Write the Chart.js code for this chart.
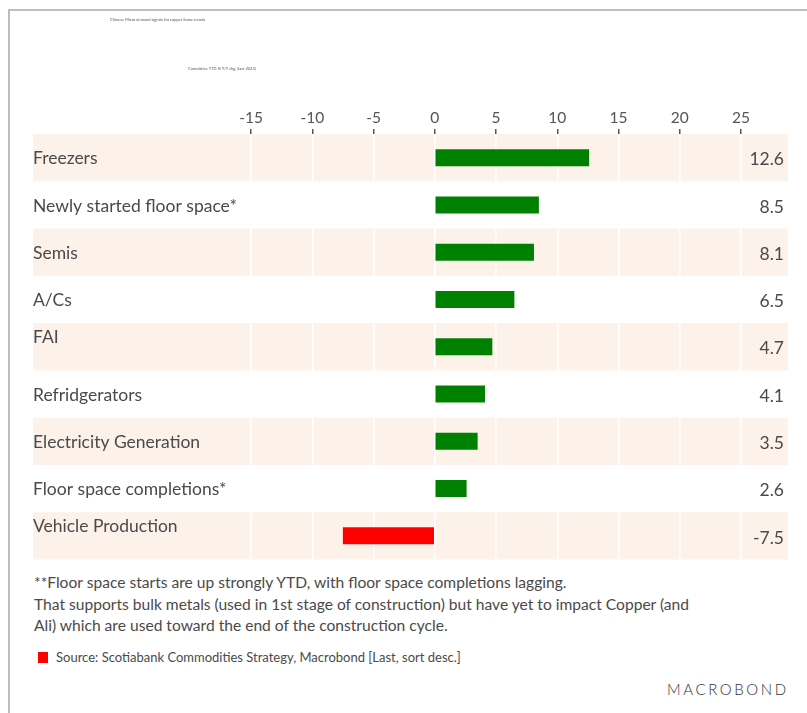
<!DOCTYPE html>
<html>
<head>
<meta charset="utf-8">
<script src="https://cdn.jsdelivr.net/npm/chart.js@4.4.1/dist/chart.umd.min.js"></script>
<style>
  html, body { margin: 0; padding: 0; background: #fff; }
  #wrap { position: relative; width: 807px; height: 713px; overflow: hidden; font-family: Lato, "Open Sans", sans-serif; color: #444; }
  #frame { position: absolute; left: 8px; top: 9px; right: -4px; bottom: -4px; border-top: 2px solid #bdbdbd; border-left: 2px solid #bdbdbd; }
  #cv { position: absolute; left: 0; top: 0; }
  .tiny { position: absolute; font-size: 4px; color: #555; white-space: nowrap; }
  #note { position: absolute; left: 34px; top: 572px; font-size: 15.6px; line-height: 21.5px; color: #4a4a4a; white-space: nowrap; }
  #legend { position: absolute; left: 38px; top: 649px; font-size: 13px; color: #4a4a4a; white-space: nowrap; }
  #legend .sw { display: inline-block; width: 10px; height: 11px; background: #ff0000; vertical-align: -1px; margin-right: 8px; }
  #logo { position: absolute; left: 667px; top: 680px; font-size: 15px; font-weight: 300; letter-spacing: 2.6px; color: #333; white-space: nowrap; }
</style>
</head>
<body>
<div id="wrap">
  <div id="frame"></div>
  <canvas id="cv" width="807" height="570"></canvas>
  <div class="tiny" style="left:110px; top:17px;">Chinese Micro demand signals for copper Some trends</div>
  <div class="tiny" style="left:188px; top:66px;">Cumulative YTD % Y/Y chg, (last 2023)</div>
  <div id="note">**Floor space starts are up strongly YTD, with floor space completions lagging.<br>That supports bulk metals (used in 1st stage of construction) but have yet to impact Copper (and<br>Ali) which are used toward the end of the construction cycle.</div>
  <div id="legend"><span class="sw"></span>Source: Scotiabank Commodities Strategy, Macrobond [Last, sort desc.]</div>
  <div id="logo">MACROBOND</div>
</div>
<script>
// ---- data ----
const categories = [
  "Freezers",
  "Newly started floor space*",
  "Semis",
  "A/Cs",
  ["FAI", ""],
  "Refridgerators",
  "Electricity Generation",
  "Floor space completions*",
  ["Vehicle Production", ""]
];
const values = [12.6, 8.5, 8.1, 6.5, 4.7, 4.1, 3.5, 2.6, -7.5];
const valueLabels = ["12.6", "8.5", "8.1", "6.5", "4.7", "4.1", "3.5", "2.6", "-7.5"];
const xTicks = [-15, -10, -5, 0, 5, 10, 15, 20, 25];

const BAND = '#fcf2ea';
const TEXT = '#4a4a4a';
const FONT = 'Lato, "Open Sans", sans-serif';

const bandPlugin = {
  id: 'bands',
  beforeDraw(chart) {
    const { ctx } = chart;
    const ys = chart.scales.y;
    const n = categories.length;
    const pitch = (ys.bottom - ys.top) / n;
    ctx.save();
    ctx.fillStyle = BAND;
    for (let i = 0; i < n; i += 2) {
      const c = ys.getPixelForValue(i);
      ctx.fillRect(33, c - pitch / 2, 788 - 33, pitch);
    }
    ctx.restore();
  },
  afterDatasetsDraw(chart) {
    const { ctx } = chart;
    const ys = chart.scales.y;
    ctx.save();
    ctx.font = '17.5px ' + FONT;
    ctx.fillStyle = TEXT;
    ctx.textAlign = 'right';
    ctx.textBaseline = 'middle';
    valueLabels.forEach((t, i) => {
      ctx.fillText(t, 784, ys.getPixelForValue(i) + 2);
    });
    ctx.restore();
  }
};

new Chart(document.getElementById('cv'), {
  type: 'bar',
  data: {
    labels: categories,
    datasets: [{
      data: values,
      backgroundColor: values.map(v => v < 0 ? '#ff0000' : '#008000'),
      borderWidth: 0,
      barPercentage: 0.36,
      categoryPercentage: 1
    }]
  },
  options: {
    indexAxis: 'y',
    responsive: false,
    animation: false,
    layout: { padding: { left: 33, right: 66, top: 100, bottom: 9 } },
    plugins: { legend: { display: false }, tooltip: { enabled: false } },
    scales: {
      x: {
        position: 'top',
        min: -15, max: 25,
        afterBuildTicks(s) { s.ticks = xTicks.map(v => ({ value: v })); },
        afterFit(s) { s.height = 34; },
        grid: { color: '#ffffff', lineWidth: 1.5, tickColor: '#555', tickLength: 5, drawOnChartArea: true },
        border: { display: false },
        ticks: { font: { family: FONT, size: 15.5 }, color: '#555', padding: 2, maxRotation: 0 }
      },
      y: {
        afterFit(s) { s.width = 218; },
        grid: { display: false },
        border: { display: false },
        ticks: { crossAlign: 'far', font: { family: FONT, size: 17.5 }, color: TEXT, padding: 0, labelOffset: 1 }
      }
    }
  },
  plugins: [bandPlugin]
});
</script>
</body>
</html>
